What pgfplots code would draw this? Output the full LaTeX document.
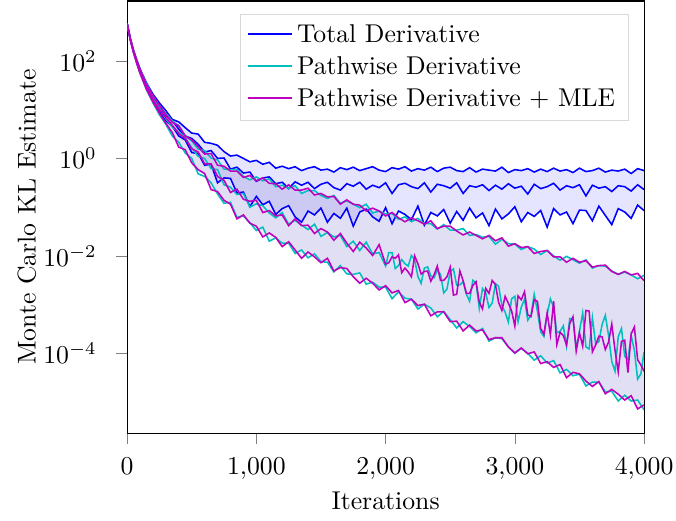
\documentclass[border=0pt]{standalone}
\usepackage{pgfplots}
\usepackage{pgfplotstable}
\pgfplotsset{compat=1.18}
\usepgfplotslibrary{fillbetween}

\definecolor{cyanL}{RGB}{0,191,191}
\definecolor{magentaL}{RGB}{191,0,191}

% Total Derivative: iteration, lower, mean, upper
\pgfplotstableread{
x lo mid hi
0 589 589 589
25 275 282 288
50 151 158 166
75 93.3 100 105
100 60.3 64.6 69.2
150 28.2 31.6 35.5
200 15.5 18.2 20.9
250 9.33 11.2 13.8
300 5.89 7.59 9.55
350 4.57 6.03 6.31
400 2.88 3.98 5.62
450 2.40 2.88 4.27
500 1.32 2.57 3.31
550 1.26 1.95 3.16
600 0.724 1.35 2.14
650 0.759 1.45 2.04
700 0.316 1.00 1.86
750 0.398 1.02 1.38
800 0.389 0.603 1.12
850 0.195 0.661 1.17
900 0.204 0.501 1.00
950 0.102 0.525 0.851
1000 0.166 0.339 0.912
1050 0.112 0.398 0.759
1100 0.132 0.417 0.832
1150 0.0708 0.302 0.631
1200 0.0933 0.324 0.692
1250 0.107 0.240 0.617
1300 0.0631 0.331 0.676
1350 0.0490 0.282 0.562
1400 0.0832 0.324 0.631
1450 0.0692 0.240 0.676
1500 0.0955 0.295 0.575
1550 0.0490 0.324 0.603
1600 0.0741 0.251 0.525
1650 0.0589 0.224 0.646
1700 0.0955 0.302 0.589
1750 0.0407 0.269 0.661
1800 0.0794 0.324 0.562
1850 0.0912 0.234 0.617
1900 0.0631 0.282 0.676
1950 0.0513 0.251 0.575
2000 0.0977 0.316 0.537
2050 0.0457 0.191 0.646
2100 0.0832 0.288 0.603
2150 0.0708 0.309 0.676
2200 0.0550 0.263 0.550
2250 0.105 0.240 0.617
2300 0.0427 0.316 0.575
2350 0.0776 0.204 0.661
2400 0.0661 0.295 0.537
2450 0.0891 0.275 0.631
2500 0.0468 0.245 0.661
2550 0.0813 0.316 0.562
2600 0.0537 0.191 0.537
2650 0.0955 0.275 0.646
2700 0.0603 0.257 0.525
2750 0.0759 0.288 0.603
2800 0.0417 0.219 0.575
2850 0.0912 0.282 0.550
2900 0.0575 0.234 0.661
2950 0.0724 0.302 0.513
3000 0.102 0.245 0.589
3050 0.0501 0.269 0.562
3100 0.0776 0.186 0.617
3150 0.0646 0.295 0.525
3200 0.0851 0.240 0.603
3250 0.0389 0.263 0.537
3300 0.0933 0.309 0.631
3350 0.0692 0.224 0.550
3400 0.0794 0.275 0.589
3450 0.0457 0.251 0.513
3500 0.0871 0.288 0.631
3550 0.0851 0.170 0.537
3600 0.0525 0.282 0.562
3650 0.105 0.245 0.631
3700 0.0676 0.263 0.525
3750 0.0437 0.209 0.575
3800 0.0933 0.275 0.550
3850 0.0794 0.263 0.603
3900 0.0589 0.214 0.490
3950 0.110 0.288 0.617
4000 0.0850 0.229 0.562
}\ttotal

% Pathwise Derivative: iteration, lower, upper
\pgfplotstableread{
x lo hi
0 589 589
25 275 288
50 148 162
75 89.1 102
100 56.2 67.6
150 25.7 33.9
200 13.8 19.1
250 7.94 12.0
300 5.01 8.32
350 2.88 5.89
400 2.14 4.68
450 1.29 2.95
500 1.00 2.29
550 0.48 1.55
600 0.427 1.45
650 0.316 1.02
700 0.186 0.933
750 0.120 0.603
800 0.126 0.589
850 0.0617 0.589
900 0.0661 0.427
950 0.0479 0.363
1000 0.0331 0.417
1050 0.0389 0.347
1100 0.0200 0.380
1150 0.0234 0.263
1200 0.0182 0.282
1250 0.0182 0.245
1300 0.0112 0.275
1350 0.0132 0.191
1400 0.00912 0.219
1450 0.0110 0.219
1500 0.00759 0.174
1550 0.00741 0.151
1600 0.00468 0.174
1650 0.00631 0.120
1700 0.00427 0.135
1750 0.00417 0.115
1800 0.00447 0.0977
1850 0.00263 0.115
1900 0.00288 0.0759
1950 0.00229 0.0832
2000 0.00229 0.0724
2050 0.00132 0.0741
2100 0.00182 0.0562
2150 0.00135 0.0631
2200 0.00129 0.0501
2250 8.13e-4 0.0589
2300 0.00102 0.0457
2350 8.51e-4 0.0457
2400 5.62e-4 0.0355
2450 7.24e-4 0.0437
2500 4.90e-4 0.0339
2550 3.31e-4 0.0339
2600 4.47e-4 0.0363
2650 3.55e-4 0.0263
2700 2.63e-4 0.0275
2750 3.24e-4 0.0240
2800 1.78e-4 0.0251
2850 2.09e-4 0.0174
2900 2.00e-4 0.0219
2950 1.35e-4 0.0178
3000 1.00e-4 0.0174
3050 1.26e-4 0.0135
3100 1.00e-4 0.0155
3150 7.24e-5 0.0138
3200 8.91e-5 0.0107
3250 6.31e-5 0.0129
3300 7.08e-5 0.0100
3350 3.98e-5 0.00813
3400 4.68e-5 0.00977
3450 3.47e-5 0.00832
3500 3.72e-5 0.00708
3550 2.14e-5 0.00832
3600 2.57e-5 0.00562
3650 2.57e-5 0.00631
3700 1.62e-5 0.00617
3750 1.66e-5 0.00490
3800 1.05e-5 0.00417
3850 1.38e-5 0.00468
3900 1.05e-5 0.00407
3950 1.10e-5 0.00339
4000 6.92e-6 0.00398
}\tpath

% Pathwise Derivative: mean
\pgfplotstableread{
x y
0 589
25 282
50 155
75 95.5
100 61.7
150 28.8
200 16.6
250 10.5
300 6.61
350 4.37
400 3.47
450 2.69
500 1.66
550 1.10
600 1.00
650 0.617
700 0.589
750 0.288
800 0.257
850 0.182
900 0.191
950 0.100
1000 0.117
1050 0.107
1100 0.0759
1150 0.0603
1200 0.0776
1250 0.0447
1300 0.0537
1350 0.0427
1400 0.0347
1450 0.0447
1500 0.0251
1550 0.0302
1600 0.0245
1650 0.0263
1700 0.0155
1750 0.0200
1800 0.0129
1850 0.0191
1900 0.0110
1950 0.0117
2000 0.00617
2025 0.0117
2050 0.0117
2075 0.00550
2100 0.00631
2125 0.00841
2150 0.00692
2175 0.00617
2200 0.0102
2225 0.00832
2250 0.00380
2275 0.00273
2300 0.00562
2325 0.00593
2350 0.00389
2375 0.00355
2400 0.00513
2425 0.00415
2450 0.00174
2475 0.00208
2500 0.00479
2525 0.00540
2550 0.00251
2575 0.00254
2600 0.00295
2625 0.00164
2650 0.00117
2675 0.00315
2700 0.00282
2725 8.38e-4
2750 0.00214
2775 0.00173
2800 8.71e-4
2825 0.00108
2850 0.00269
2875 0.00237
2900 9.55e-4
2925 7.0e-4
2950 4.37e-4
2975 0.00132
3000 0.00148
3025 4.45e-4
3050 8.91e-4
3075 0.00129
3100 4.79e-4
3125 5.97e-4
3150 0.00162
3175 7.26e-4
3200 2.75e-4
3225 2.22e-4
3250 6.31e-4
3275 0.00131
3300 8.91e-4
3325 2.64e-4
3350 2.82e-4
3375 3.66e-4
3400 1.41e-4
3425 5.18e-4
3450 5.01e-4
3475 1.26e-4
3500 2.82e-4
3525 6.75e-4
3550 1.35e-4
3575 1.23e-4
3600 5.37e-4
3625 1.57e-4
3650 1.74e-4
3675 3.87e-4
3700 6.03e-4
3725 2.36e-4
3750 6.76e-5
3775 4.31e-5
3800 2.19e-4
3825 3.24e-4
3850 8.71e-5
3875 7.41e-5
3900 2.34e-4
3925 1.14e-4
3950 2.95e-5
3975 3.78e-5
4000 1.07e-4
}\tpathmid

% Pathwise Derivative + MLE: iteration, lower, upper
\pgfplotstableread{
x lo hi
0 589 589
25 275 288
50 148 162
75 89.1 102
100 56.2 67.6
150 26.3 32.4
200 14.5 19.5
250 8.51 12.3
300 5.25 7.94
350 3.39 5.50
400 1.70 4.68
450 1.51 2.88
500 0.813 2.40
550 0.589 1.74
600 0.490 1.23
650 0.229 1.26
700 0.209 0.724
750 0.138 0.692
800 0.115 0.550
850 0.0575 0.550
900 0.0692 0.407
950 0.0468 0.447
1000 0.0407 0.347
1050 0.0245 0.398
1100 0.0295 0.309
1150 0.0240 0.302
1200 0.0155 0.234
1250 0.0195 0.288
1300 0.0132 0.224
1350 0.00891 0.224
1400 0.0120 0.245
1450 0.00955 0.178
1500 0.00724 0.191
1550 0.00891 0.162
1600 0.00490 0.166
1650 0.00575 0.115
1700 0.00550 0.141
1750 0.00372 0.115
1800 0.00275 0.110
1850 0.00347 0.0832
1900 0.00275 0.0955
1950 0.00200 0.0832
2000 0.00245 0.0661
2050 0.00174 0.0776
2100 0.00195 0.0603
2150 0.00110 0.0501
2200 0.00129 0.0603
2250 9.55e-4 0.0525
2300 0.00102 0.0447
2350 5.89e-4 0.0525
2400 7.08e-4 0.0363
2450 7.08e-4 0.0407
2500 4.47e-4 0.0407
2550 4.57e-4 0.0324
2600 2.88e-4 0.0269
2650 3.80e-4 0.0309
2700 2.88e-4 0.0263
2750 3.02e-4 0.0224
2800 1.91e-4 0.0263
2850 2.09e-4 0.0204
2900 2.09e-4 0.0234
2950 1.35e-4 0.0158
3000 1.02e-4 0.0178
3050 1.29e-4 0.0148
3100 9.77e-5 0.0155
3150 1.07e-4 0.0112
3200 6.17e-5 0.0123
3250 6.76e-5 0.0129
3300 5.13e-5 0.00955
3350 5.89e-5 0.00955
3400 3.16e-5 0.00741
3450 4.07e-5 0.00891
3500 3.80e-5 0.00741
3550 2.69e-5 0.00794
3600 2.09e-5 0.00589
3650 2.63e-5 0.00631
3700 1.48e-5 0.00646
3750 1.82e-5 0.00479
3800 1.45e-5 0.00417
3850 1.10e-5 0.00479
3900 1.35e-5 0.00407
3950 7.24e-6 0.00437
4000 8.71e-6 0.00309
}\tmle

% Pathwise Derivative + MLE: mean
\pgfplotstableread{
x y
0 589
25 282
50 155
75 95.5
100 61.7
150 29.5
200 16.2
250 10.0
300 6.92
350 4.79
400 3.24
450 2.57
500 1.58
550 1.35
600 0.776
650 0.776
700 0.427
750 0.355
800 0.200
850 0.234
900 0.145
950 0.132
1000 0.138
1050 0.0776
1100 0.0851
1150 0.0661
1200 0.0692
1250 0.0417
1300 0.0575
1350 0.0417
1400 0.0427
1450 0.0288
1500 0.0363
1550 0.0309
1600 0.0209
1650 0.0288
1700 0.0182
1750 0.0123
1800 0.0191
1850 0.0145
1900 0.0102
1950 0.0170
2000 0.00676
2025 0.00724
2050 0.00955
2075 0.00891
2100 0.0105
2125 0.00452
2150 0.00562
2175 0.00468
2200 0.00372
2225 0.0100
2250 0.00692
2275 0.00425
2300 0.00479
2325 0.00488
2350 0.00302
2375 0.00407
2400 0.00617
2425 0.00313
2450 0.00316
2475 0.00372
2500 0.00589
2525 0.00157
2550 0.00162
2575 0.00490
2600 0.00309
2625 0.00171
2650 0.00170
2675 0.00247
2700 0.00295
2725 0.00112
2750 8.13e-4
2775 0.00215
2800 0.00170
2825 0.00313
2850 0.00257
2875 0.00110
2900 7.59e-4
2925 0.00148
2950 0.00107
2975 7.45e-4
3000 3.63e-4
3025 0.00151
3050 0.00126
3075 0.00184
3100 6.17e-4
3125 5.68e-4
3150 0.00126
3175 0.00116
3200 3.24e-4
3225 2.47e-4
3250 6.76e-4
3275 2.41e-4
3300 0.00117
3325 1.51e-4
3350 2.69e-4
3375 2.32e-4
3400 1.48e-4
3425 4.10e-4
3450 5.62e-4
3475 1.12e-4
3500 2.63e-4
3525 1.40e-4
3550 7.59e-4
3575 7.35e-4
3600 1.07e-4
3625 1.48e-4
3650 2.24e-4
3675 2.18e-4
3700 1.20e-4
3725 1.70e-4
3750 3.98e-4
3775 1.16e-4
3800 4.17e-5
3825 1.76e-4
3850 1.86e-4
3875 4.01e-5
3900 2.51e-4
3925 3.48e-4
3950 7.41e-5
3975 5.77e-5
4000 4.27e-5
}\tmlemid

% legend sample: a coloured rule, set as text
\newcommand{\legline}[1]{\node[anchor=west, inner sep=0pt] at (0cm,0cm)
    {\textcolor{#1}{\rule[-0.3pt]{0.6cm}{0.6pt}}};}

\begin{document}
\begin{tikzpicture}
\begin{axis}[
    width=201pt, height=168pt, scale only axis,
    ymode=log,
    xmin=0, xmax=4000,
    ymin=2.3e-6, ymax=1.7e3,
    xtick={0,1000,2000,3000,4000},
    ytick={1e-4,1e-2,1,1e2},
    yminorticks=false,
    tick align=outside, tick pos=left,
    yticklabel style={xshift=-4pt},
    xticklabel style={yshift=-2pt},
    xlabel={Iterations},
    ylabel={Monte Carlo KL Estimate},
    xlabel style={at={(axis description cs:0.5,-0.157)}, anchor=center},
    ylabel style={at={(axis description cs:-0.194,0.5)}, anchor=center},
    legend pos=north east,
    legend cell align=left,
    legend style={draw=black!15},
    every axis plot/.append style={line width=0.6pt},
]
% band boundaries (invisible, only named for the fills)
\addplot[draw=none, name path=thi, forget plot] table[x=x, y=hi] {\ttotal};
\addplot[draw=none, name path=tlo, forget plot] table[x=x, y=lo] {\ttotal};
\addplot[draw=none, name path=phi, forget plot] table[x=x, y=hi] {\tpath};
\addplot[draw=none, name path=plo, forget plot] table[x=x, y=lo] {\tpath};
\addplot[draw=none, name path=mhi, forget plot] table[x=x, y=hi] {\tmle};
\addplot[draw=none, name path=mlo, forget plot] table[x=x, y=lo] {\tmle};

% shaded bands
\addplot[fill=blue, fill opacity=0.1, draw=none, forget plot] fill between[of=thi and tlo];
\addplot[fill=cyanL, fill opacity=0.1, draw=none, forget plot] fill between[of=phi and plo];
\addplot[fill=magentaL, fill opacity=0.1, draw=none, forget plot] fill between[of=mhi and mlo];

% Total Derivative
\addplot[blue, forget plot] table[x=x, y=hi] {\ttotal};
\addplot[blue, forget plot] table[x=x, y=lo] {\ttotal};
\addplot[blue, forget plot] table[x=x, y=mid] {\ttotal};

% Pathwise Derivative
\addplot[cyanL, forget plot] table[x=x, y=hi] {\tpath};
\addplot[cyanL, forget plot] table[x=x, y=lo] {\tpath};
\addplot[cyanL, forget plot] table[x=x, y=y] {\tpathmid};

% Pathwise Derivative + MLE
\addplot[magentaL, forget plot] table[x=x, y=hi] {\tmle};
\addplot[magentaL, forget plot] table[x=x, y=lo] {\tmle};
\addplot[magentaL, forget plot] table[x=x, y=y] {\tmlemid};

\addlegendimage{legend image code/.code={\legline{blue}}}
\addlegendentry{Total Derivative}
\addlegendimage{legend image code/.code={\legline{cyanL}}}
\addlegendentry{Pathwise Derivative}
\addlegendimage{legend image code/.code={\legline{magentaL}}}
\addlegendentry{Pathwise Derivative + MLE}
\end{axis}
\pgfresetboundingbox
\path (-49.4pt,-33.8pt) rectangle (213.4pt,168.4pt);
\end{tikzpicture}
\end{document}
